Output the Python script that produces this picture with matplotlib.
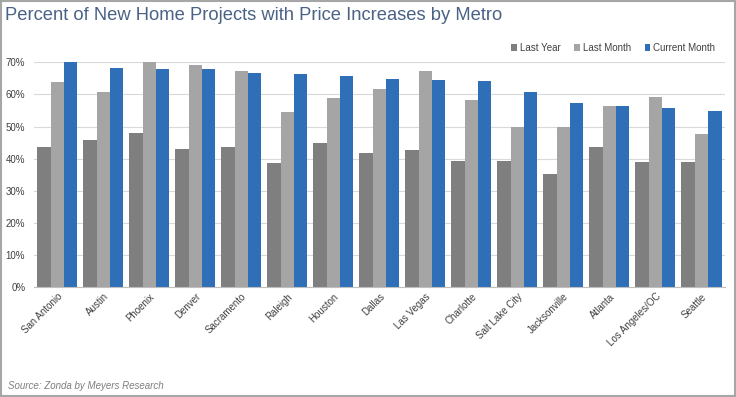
import numpy as np
import matplotlib
matplotlib.use("Agg")
import matplotlib.pyplot as plt
from matplotlib.patches import Rectangle

plt.rcParams['font.family'] = ['Liberation Sans', 'DejaVu Sans']

metros = ['San Antonio', 'Austin', 'Phoenix', 'Denver', 'Sacramento', 'Raleigh',
          'Houston', 'Dallas', 'Las Vegas', 'Charlotte', 'Salt Lake City',
          'Jacksonville', 'Atlanta', 'Los Angeles/OC', 'Seattle']
last_year = [43.8, 45.7, 48.0, 43.0, 43.8, 38.6, 45.0, 41.8, 42.7, 39.4, 39.4, 35.4, 43.8, 39.1, 38.9]
last_month = [63.9, 60.9, 70.2, 69.3, 67.4, 54.5, 58.8, 61.8, 67.4, 58.4, 49.9, 49.9, 56.5, 59.1, 47.7]
current_month = [70.3, 68.1, 67.9, 67.9, 66.8, 66.4, 65.6, 64.7, 64.4, 64.1, 60.8, 57.3, 56.5, 55.9, 55.0]
series_names = ['Last Year', 'Last Month', 'Current Month']
colors = ['#7f7f7f', '#a5a5a5', '#2e6fb8']

fig = plt.figure(figsize=(7.36, 3.97), dpi=100)
ax = fig.add_axes([34.3 / 736, 1 - 287.3 / 397, (724.5 - 34.3) / 736, (287.3 - 62.3) / 397])

x = np.arange(len(metros))
w = 0.29
for i, (vals, name, c) in enumerate(zip([last_year, last_month, current_month], series_names, colors)):
    ax.bar(x + (i - 1) * w, np.array(vals) / 100, width=w, color=c, label=name, zorder=2)

ax.set_xlim(-0.5, len(metros) - 0.5)
ax.set_ylim(0, 0.70)
ax.set_yticks(np.arange(0, 0.71, 0.1))
ax.set_yticklabels(['%d%%' % v for v in range(0, 71, 10)], fontsize=7, color='#404040')
ax.set_xticks(x)
ax.set_xticklabels(metros, rotation=45, ha='right', rotation_mode='anchor', fontsize=7, color='#404040')
ax.tick_params(axis='x', length=0, pad=3)
ax.tick_params(axis='y', length=0, pad=6.5)
ax.grid(axis='y', color='#d9d9d9', linewidth=0.8, zorder=0)
for s in ['top', 'right', 'left']:
    ax.spines[s].set_visible(False)
ax.spines['bottom'].set_color('#bfbfbf')

fig.legend(loc='center right', bbox_to_anchor=(724 / 736, 1 - 48 / 397), ncol=3, frameon=False,
           fontsize=7, handlelength=0.6, handleheight=0.6, handletextpad=0.3, columnspacing=1.4,
           labelcolor='#404040')

fig.text(5 / 736, 1 - 16 / 397, 'Percent of New Home Projects with Price Increases by Metro',
         fontsize=13.2, color='#4a6286', va='center', ha='left')
fig.text(8 / 736, 1 - 386 / 397, 'Source: Zonda by Meyers Research', fontsize=7,
         style='italic', color='#7f7f7f', va='center', ha='left')

fig.patches.append(Rectangle((0.001, 0.002), 0.997, 0.995, transform=fig.transFigure,
                             fill=False, edgecolor='#a6a6a6', linewidth=1.5))

fig.savefig('out.png', dpi=100)
